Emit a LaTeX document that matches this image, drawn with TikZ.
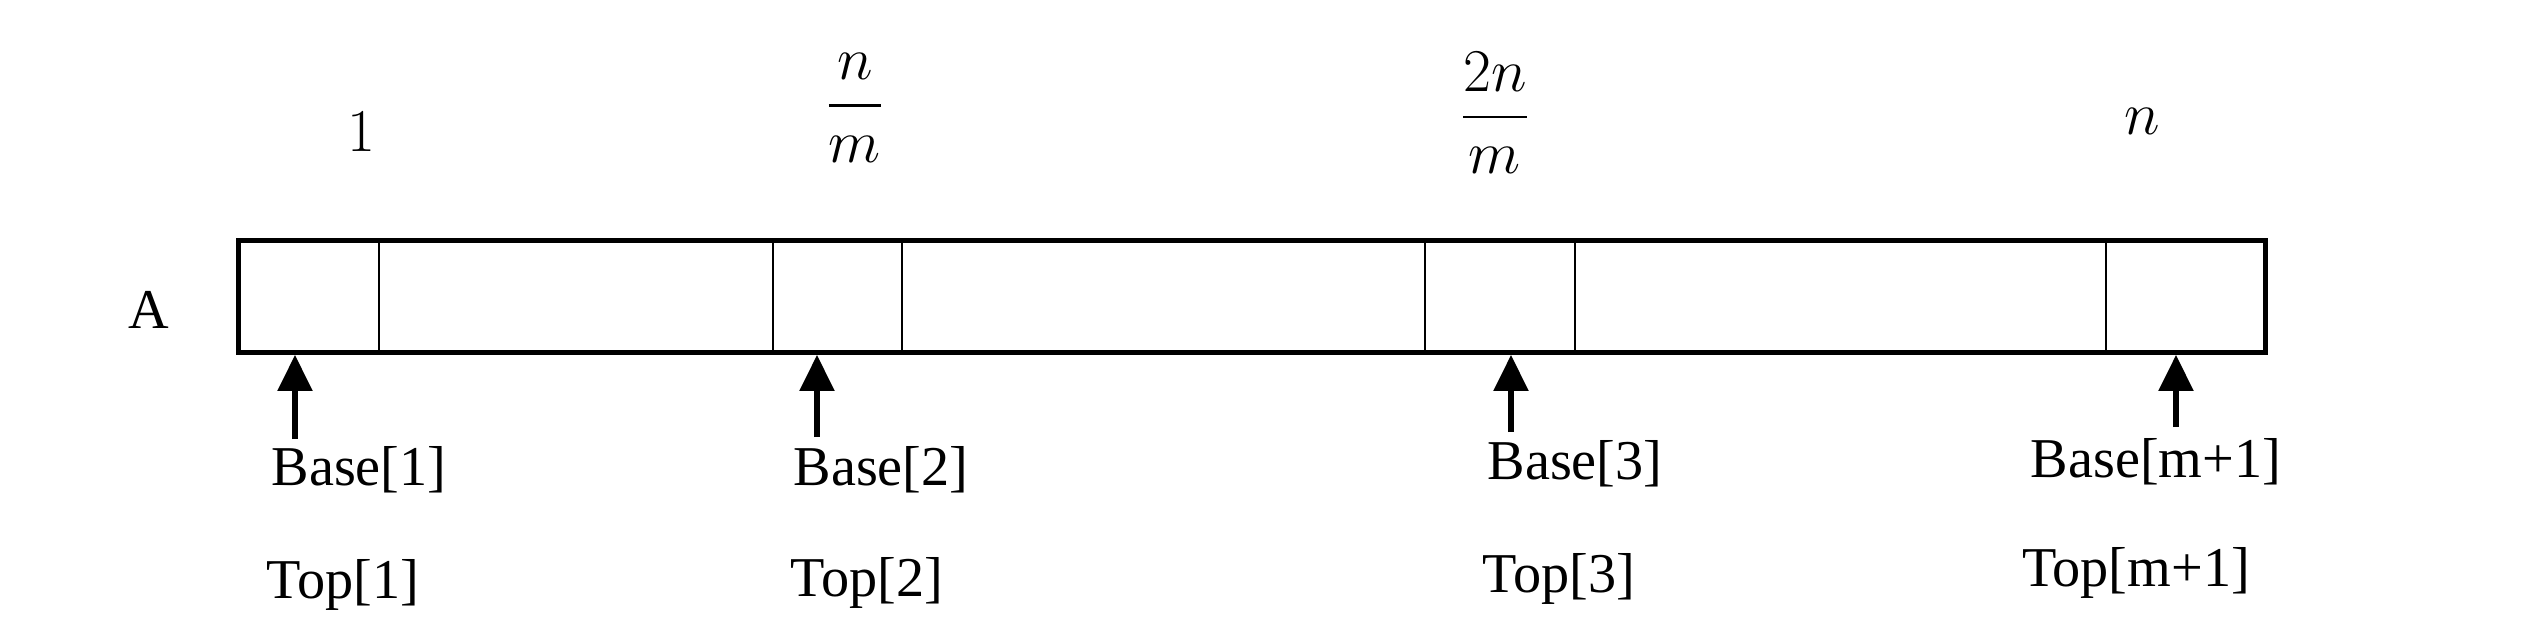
\documentclass[tikz,border=0pt]{standalone}
\usepackage{amsmath}
\usepackage{fontspec}
\setmainfont{Liberation Serif}
\usepackage{tikz}
\usetikzlibrary{arrows.meta}

\begin{document}
\begin{tikzpicture}[font=\fontsize{16}{19}\selectfont,
    cellline/.style={black, line width=0.8pt},
    ptr/.style={black, line width=1.6pt, -{Triangle[length=3.6mm,width=3.4mm]}}]
            \useasboundingbox (0,0) rectangle (25.3,-6.35);
            \node[draw, line width=1.4pt, minimum width=20.27cm, minimum height=1.12cm,
            inner sep=0pt, anchor=north west] (arr) at (2.36,-2.38) {};
            \foreach \x in {3.79,7.73,9.02,14.25,15.75,21.06}
                \draw[cellline] (\x,-2.38) -- (\x,-3.50);
            \node (lblA) at (1.49,-3.10) {A};
            % positions above the array
            \node (p1) at (3.61,-1.32) {$1$};
            \node (p2) at (8.55,-1.08) {$\dfrac{n}{m}$};
            \node (p3) at (14.95,-1.13) {$\dfrac{2n}{m}$};
            \node (p4) at (21.42,-1.21) {$n$};
            % base and top pointers
            \node (base1) at (3.59,-4.70) {Base[1]};
            \node (base2) at (8.81,-4.70) {Base[2]};
            \node (base3) at (15.75,-4.64) {Base[3]};
            \node (base4) at (21.56,-4.62) {Base[m+1]};
            \node (top1) at (3.43,-5.85) {Top[1]};
            \node (top2) at (8.67,-5.83) {Top[2]};
            \node (top3) at (15.59,-5.79) {Top[3]};
            \node (top4) at (21.36,-5.73) {Top[m+1]};
            \coordinate (a1) at (2.95,-4.39);
            \coordinate (a2) at (8.17,-4.37);
            \coordinate (a3) at (15.11,-4.32);
            \coordinate (a4) at (21.76,-4.27);
            \draw[ptr] (a1) -- (a1 |- arr.south);
            \draw[ptr] (a2) -- (a2 |- arr.south);
            \draw[ptr] (a3) -- (a3 |- arr.south);
            \draw[ptr] (a4) -- (a4 |- arr.south);
        \end{tikzpicture}
\end{document}
